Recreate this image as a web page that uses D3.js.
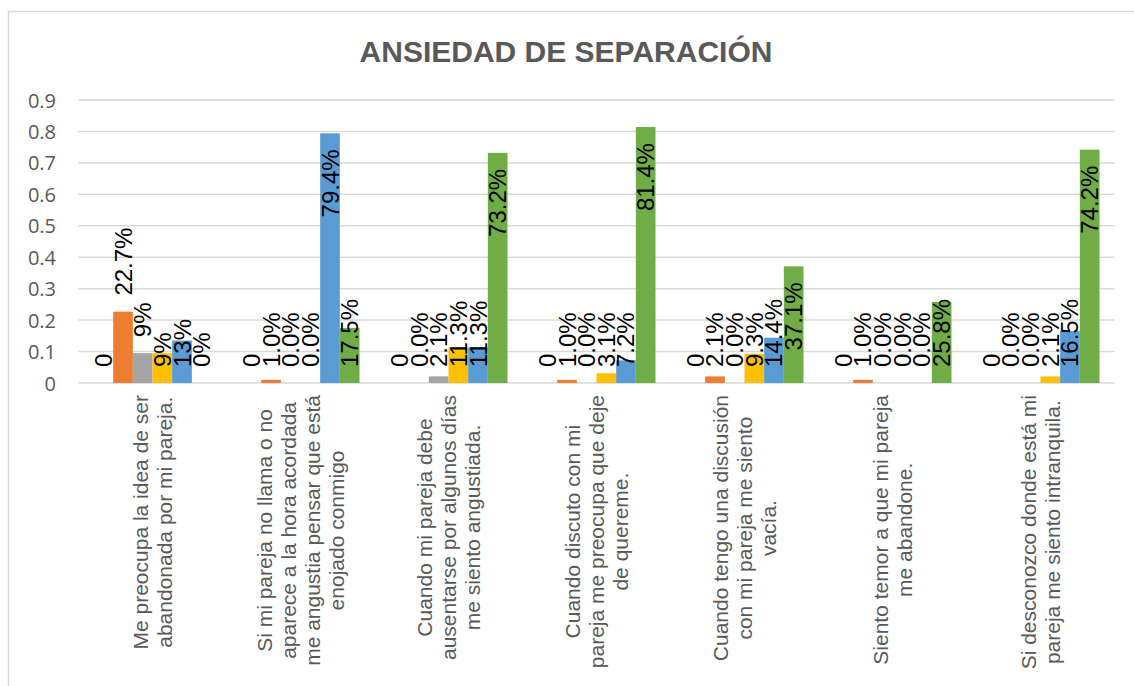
<!DOCTYPE html>
<html>
<head>
<meta charset="utf-8">
<script src="https://cdn.jsdelivr.net/npm/d3@7"></script>
<style>
  body { margin: 0; background: #fff; }
  svg { display: block; }
</style>
</head>
<body>
<svg id="chart"></svg>
<script>
// categories (x labels, split in lines as in the chart)
const categories = [
    ["Me preocupa la idea de ser", "abandonada por mi pareja."],
    ["Si mi pareja no llama o no", "aparece a la hora acordada", "me angustia pensar que está", "enojado conmigo"],
    ["Cuando mi pareja debe", "ausentarse por algunos días", "me siento angustiada."],
    ["Cuando discuto con mi", "pareja me preocupa que deje", "de quereme."],
    ["Cuando tengo una discusión", "con mi pareja me siento", "vacía."],
    ["Siento temor a que mi pareja", "me abandone."],
    ["Si desconozco donde está mi", "pareja me siento intranquila."]
];

const seriesNames = ["s1", "s2", "s3", "s4", "s5", "s6"];
const seriesColors = ["#4472C4", "#ED7D31", "#A5A5A5", "#FFC000", "#5B9BD5", "#70AD47"];

// values per series, one per category
const s1Values = [0, 0, 0, 0, 0, 0, 0];
const s2Values = [0.227, 0.010, 0.000, 0.010, 0.021, 0.010, 0.000];
const s3Values = [0.095, 0.000, 0.021, 0.000, 0.000, 0.000, 0.000];
const s4Values = [0.095, 0.000, 0.113, 0.031, 0.093, 0.000, 0.021];
const s5Values = [0.135, 0.794, 0.113, 0.072, 0.144, 0.000, 0.165];
const s6Values = [0.000, 0.175, 0.732, 0.814, 0.371, 0.258, 0.742];

// data label text per series
const s1Labels = ["0", "0", "0", "0", "0", "0", "0"];
const s2Labels = ["22.7%", "1.0%", "0.0%", "1.0%", "2.1%", "1.0%", "0.0%"];
const s3Labels = ["9%", "0.0%", "2.1%", "0.0%", "0.0%", "0.0%", "0.0%"];
const s4Labels = ["9%", "0.0%", "11.3%", "3.1%", "9.3%", "0.0%", "2.1%"];
const s5Labels = ["13%", "79.4%", "11.3%", "7.2%", "14.4%", "0.0%", "16.5%"];
const s6Labels = ["0%", "17.5%", "73.2%", "81.4%", "37.1%", "25.8%", "74.2%"];

// labels that sit above their bar (category-series)
const raisedLabels = new Set(["0-1", "0-2"]);

const yTicks = [0, 0.1, 0.2, 0.3, 0.4, 0.5, 0.6, 0.7, 0.8, 0.9];
const title = "ANSIEDAD DE SEPARACIÓN";

const allValues = [s1Values, s2Values, s3Values, s4Values, s5Values, s6Values];
const allLabels = [s1Labels, s2Labels, s3Labels, s4Labels, s5Labels, s6Labels];

const width = 1134, height = 686;
const plot = { left: 78.5, right: 1114.5, top: 100, bottom: 383 };

const svg = d3.select("#chart")
    .attr("width", width)
    .attr("height", height);

svg.append("rect")
    .attr("x", 8.5).attr("y", 11.5)
    .attr("width", 1300).attr("height", 1000)
    .attr("fill", "none")
    .attr("stroke", "#d9d9d9")
    .attr("stroke-width", 1.5);

svg.append("text")
    .attr("x", 566).attr("y", 62)
    .attr("text-anchor", "middle")
    .style("font-family", "'Liberation Sans', Arial, sans-serif")
    .style("font-weight", "bold")
    .style("font-size", "30px")
    .style("fill", "#595959")
    .text(title);

const x0 = d3.scaleBand()
    .domain(d3.range(categories.length))
    .range([plot.left, plot.right])
    .paddingInner(0.2027)
    .paddingOuter(0.1014);

const x1 = d3.scaleBand()
    .domain(seriesNames)
    .range([0, x0.bandwidth()]);

const y = d3.scaleLinear()
    .domain([0, 0.9])
    .range([plot.bottom, plot.top]);

// gridlines
svg.append("g")
    .selectAll("line")
    .data(yTicks)
    .join("line")
    .attr("x1", plot.left).attr("x2", plot.right)
    .attr("y1", d => y(d)).attr("y2", d => y(d))
    .attr("stroke", "#d9d9d9")
    .attr("stroke-width", 1.5);

// y axis labels
svg.append("g")
    .selectAll("text")
    .data(yTicks)
    .join("text")
    .attr("x", 56)
    .attr("y", d => y(d))
    .attr("text-anchor", "end")
    .attr("dominant-baseline", "central")
    .style("font-family", "'Open Sans', sans-serif")
    .style("font-size", "20px")
    .style("fill", "#595959")
    .text(d => d === 0 ? "0" : d3.format(".1f")(d));

// bars
const rows = [];
categories.forEach((c, i) => {
    seriesNames.forEach((s, j) => {
        rows.push({ cat: i, ser: j, name: s, value: allValues[j][i], label: allLabels[j][i] });
    });
});

svg.append("g")
    .selectAll("rect")
    .data(rows.filter(d => d.value > 0))
    .join("rect")
    .attr("x", d => x0(d.cat) + x1(d.name))
    .attr("y", d => y(d.value))
    .attr("width", x1.bandwidth())
    .attr("height", d => y(0) - y(d.value))
    .attr("fill", d => seriesColors[d.ser]);

// data labels
const base = y(0) - 16;
const labelG = svg.append("g");
rows.forEach(d => {
    const cx = x0(d.cat) + x1(d.name) + x1.bandwidth() / 2;
    const t = labelG.append("text")
        .attr("dominant-baseline", "central")
        .style("font-family", "'Liberation Sans', Arial, sans-serif")
        .style("font-size", "24px")
        .style("fill", "#000")
        .text(d.label);
    const len = t.node().getComputedTextLength();
    let yy, anchor;
    if (raisedLabels.has(d.cat + "-" + d.ser)) {
        yy = y(d.value) - 16; anchor = "start";
    } else if (y(d.value) + 16 + len <= base) {
        yy = y(d.value) + 16; anchor = "end";
    } else {
        yy = base; anchor = "start";
    }
    t.attr("text-anchor", anchor)
        .attr("transform", `translate(${cx},${yy}) rotate(-90)`);
});

// category labels
const lineH = 24;
categories.forEach((lines, i) => {
    const g = svg.append("g")
        .attr("transform", `translate(${x0(i) + x0.bandwidth() / 2},395) rotate(-90)`);
    const texts = g.selectAll("text")
        .data(lines)
        .join("text")
        .attr("y", (d, k) => (k - (lines.length - 1) / 2) * lineH)
        .attr("text-anchor", "middle")
        .attr("dominant-baseline", "central")
        .style("font-family", "'Liberation Sans', Arial, sans-serif")
        .style("font-size", "21px")
        .style("fill", "#595959")
        .text(d => d);
    const maxLen = d3.max(texts.nodes(), n => n.getComputedTextLength());
    texts.attr("x", -maxLen / 2);
});
</script>
</body>
</html>
